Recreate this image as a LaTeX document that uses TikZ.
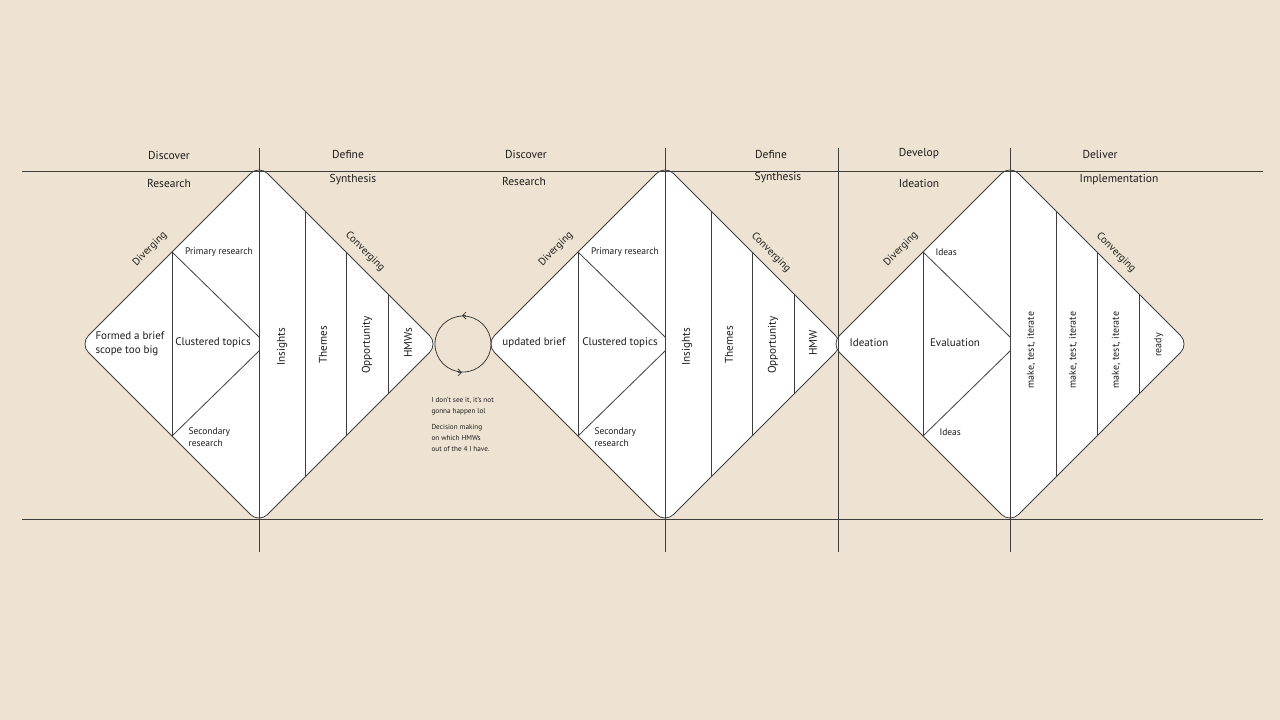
\documentclass[tikz,border=0pt]{standalone}
\usepackage{fontspec}
\setmainfont{PT Sans}
\usetikzlibrary{arrows.meta}
\definecolor{paper}{RGB}{238,227,210}
\definecolor{ink}{RGB}{62,62,62}
\definecolor{txt}{RGB}{30,28,28}
\def\splitdiamond(#1){%
	\draw[ink, fill=white, rounded corners=12pt, line width=0.8pt] (#1, 165) -- (#1+179, 344) -- (#1, 523) -- (#1-179, 344) -- cycle;
	\draw[ink, line width=0.8pt] (#1-87, 252) -- (#1-87, 436);
	\draw[ink, line width=0.8pt] (#1-87, 252) -- (#1, 337);
	\draw[ink, line width=0.8pt] (#1-87, 436) -- (#1, 351);
	\foreach \o in {46, 87, 129} {\draw[ink, line width=0.8pt] (#1+\o, 165+\o) -- (#1+\o, 523-\o);}
}

\begin{document}
\begin{tikzpicture}[x=1pt, y=-1pt,
		phase/.style={txt, font=\fontsize{11.5}{13}\selectfont},
		edgelabel/.style={txt, font=\fontsize{10.5}{12}\selectfont},
		inner/.style={txt, font=\fontsize{11}{14}\selectfont, align=left},
		small/.style={txt, font=\fontsize{9.5}{11.5}\selectfont, align=left},
		bar/.style={txt, font=\fontsize{11.2}{13}\selectfont, rotate=90},
		note/.style={txt, font=\fontsize{7.2}{11}\selectfont, align=left}]
		%%%%% START %%%%%
		
		\fill[paper] (0, 0) rectangle (1280, 720);
		\useasboundingbox (0, 0) rectangle (1280, 720);
		
		\splitdiamond(259)
		\splitdiamond(665)
		\splitdiamond(1010)
		
		\draw[ink, line width=1pt] (22, 171) -- (1263, 171);
		\draw[ink, line width=1pt] (22, 519) -- (1263, 519);
		\foreach \x in {259, 665, 838, 1010} {\draw[ink, line width=1pt] (\x, 148) -- (\x, 552);}
		
		\node[phase] (disc1) at (169, 155) {Discover};
		\node[phase] (rsrch1) at (169, 183) {Research};
		\node[phase] (def1) at (348, 154) {Define};
		\node[phase] (synth1) at (353, 180) {Synthesis};
		\node[phase] (disc2) at (526, 154) {Discover};
		\node[phase] (rsrch2) at (524, 181) {Research};
		\node[phase] (def2) at (771, 154) {Define};
		\node[phase] (synth2) at (778, 178) {Synthesis};
		\node[phase] (dev) at (919, 154) {Develop};
		\node[phase] (ideat) at (919, 183) {Ideation};
		\node[phase] (deli) at (1100, 154) {Deliver};
		\node[phase] (impl) at (1119, 180) {Implementation};
		
		\node[edgelabel, rotate=45] (div1) at (150, 249) {Diverging};
		\node[edgelabel, rotate=45] (div2) at (556, 249) {Diverging};
		\node[edgelabel, rotate=45] (div3) at (901, 249) {Diverging};
		\node[edgelabel, rotate=-45] (conv1) at (365, 252) {Converging};
		\node[edgelabel, rotate=-45] (conv2) at (771, 253) {Converging};
		\node[edgelabel, rotate=-45] (conv3) at (1116, 253) {Converging};
		
		% first diamond
		\node[inner, anchor=west] (brief1) at (92, 344) {Formed a brief\\scope too big};
		\node[inner] (clus1) at (213, 343) {Clustered topics};
		\node[small] (prim1) at (219, 252) {Primary research};
		\node[small, anchor=west] (sec1) at (185, 437) {Secondary\\research};
		\node[bar] (ins1) at (282, 347) {Insights};
		\node[bar] (them1) at (323, 345) {Themes};
		\node[bar] (opp1) at (367, 345) {Opportunity};
		\node[bar] (hmw1) at (408, 343) {HMWs};
		
		% the loop between
		\node[draw=ink, circle, minimum size=56pt, inner sep=0pt, line width=0.8pt] (loop) at (463, 344) {};
		\draw[ink, line width=0.8pt, -{Straight Barb[length=3.5pt, width=7pt]}] ([xshift=3pt]loop.north) -- ([xshift=-1pt]loop.north);
		\draw[ink, line width=0.8pt, -{Straight Barb[length=3.5pt, width=7pt]}] ([xshift=-5pt]loop.south) -- ([xshift=-1pt]loop.south);
		\node[note, anchor=north west] (note) at (428, 394) {I don't see it, it's not\\gonna happen lol\\[5pt]Decision making\\on which HMWs\\out of the 4 I have.};
		
		% second diamond
		\node[inner] (brief2) at (534, 343) {updated brief};
		\node[inner] (clus2) at (620, 343) {Clustered topics};
		\node[small] (prim2) at (625, 252) {Primary research};
		\node[small, anchor=west] (sec2) at (591, 437) {Secondary\\research};
		\node[bar] (ins2) at (687, 347) {Insights};
		\node[bar] (them2) at (729, 345) {Themes};
		\node[bar] (opp2) at (773, 345) {Opportunity};
		\node[bar] (hmw2) at (813, 343) {HMW};
		
		% third diamond
		\node[inner] (ideat3) at (869, 343) {Ideation};
		\node[inner] (eval) at (955, 343) {Evaluation};
		\node[small, anchor=west] (ideas1) at (932, 252) {Ideas};
		\node[small, anchor=west] (ideas2) at (936, 432) {Ideas};
		\node[bar, font=\fontsize{10}{12}\selectfont] (make1) at (1031, 350) {make, test, iterate};
		\node[bar, font=\fontsize{10}{12}\selectfont] (make2) at (1073, 350) {make, test, iterate};
		\node[bar, font=\fontsize{10}{12}\selectfont] (make3) at (1116, 350) {make, test, iterate};
		\node[bar, font=\fontsize{10}{12}\selectfont] (ready) at (1159, 345) {ready};
		
		%%%%% END %%%%%
	\end{tikzpicture}
\end{document}
